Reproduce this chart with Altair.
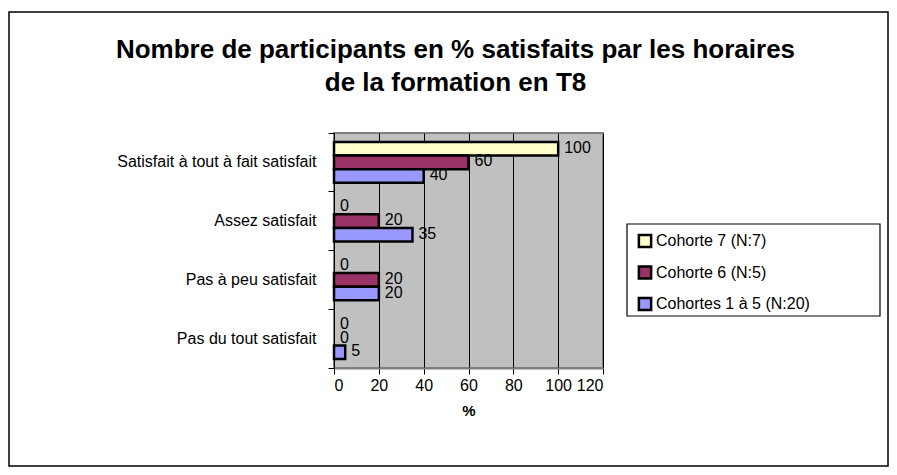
import altair as alt
import pandas as pd

categories = ["Satisfait à tout à fait satisfait", "Assez satisfait",
              "Pas à peu satisfait", "Pas du tout satisfait"]
series = ["Cohorte 7 (N:7)", "Cohorte 6 (N:5)", "Cohortes 1 à 5 (N:20)"]
cohorte7 = [100, 0, 0, 0]
cohorte6 = [60, 20, 20, 0]
cohortes1_5 = [40, 35, 20, 5]
colors = ["#FFFFCC", "#993366", "#9999FF"]
x_ticks = [0, 20, 40, 60, 80, 100, 120]

rows = []
for s, vals in zip(series, [cohorte7, cohorte6, cohortes1_5]):
    for c, v in zip(categories, vals):
        rows.append({"cat": c, "serie": s, "value": v})
df = pd.DataFrame(rows)

FONT = "Liberation Sans"

y_enc = alt.Y("cat:N", sort=categories,
              scale=alt.Scale(paddingInner=0, paddingOuter=0),
              axis=alt.Axis(title=None, ticks=False, domain=False,
                            labelFontSize=16, labelFont=FONT, labelColor="black",
                            labelPadding=18, labelLimit=400, orient="left"))
yoff = alt.YOffset("serie:N", sort=series, scale=alt.Scale(paddingOuter=0.65, paddingInner=0))
x_enc = alt.X("value:Q", scale=alt.Scale(domain=[0, 120], nice=False),
              axis=alt.Axis(values=x_ticks, title="%", grid=True, gridColor="black",
                            gridWidth=1, gridOpacity=1, domainColor="#808080",
                            domainWidth=2, tickColor="black", tickSize=6,
                            labelFontSize=16, labelFont=FONT, labelColor="black",
                            labelPadding=3, titleFontSize=15, titleFont=FONT,
                            titleFontWeight="bold", titlePadding=10))

bars = alt.Chart(df).transform_filter("datum.value > 0").mark_bar(
    stroke="black", strokeWidth=2.5).encode(
    x=x_enc, y=y_enc, yOffset=yoff,
    color=alt.Color("serie:N", sort=series,
                    scale=alt.Scale(domain=series, range=colors),
                    legend=alt.Legend(title=None, orient="none", legendX=293, legendY=90,
                                      strokeColor="transparent", fillColor="transparent",
                                      padding=10, symbolType="square", symbolSize=150,
                                      symbolStrokeColor="black", symbolStrokeWidth=2.5,
                                      labelFontSize=16, labelFont=FONT, labelColor="black",
                                      rowPadding=7.5, labelOffset=3, labelLimit=400,
                                      symbolOpacity=1)))

labels = alt.Chart(df).mark_text(align="left", dx=6, dy=-1, fontSize=16,
                                 font=FONT, color="black").encode(
    x="value:Q",
    y=alt.Y("cat:N", sort=categories,
            axis=alt.Axis(title=None, labels=False, ticks=True, tickColor="black",
                          tickSize=6, domain=False, bandPosition=1, tickExtra=True,
                          orient="left")),
    yOffset=yoff, text="value:Q")

# decorative boxes: outer chart frame and legend frame
frame = alt.Chart(alt.Data(values=[{}])).mark_rect(
    fill=None, stroke="black", strokeWidth=1.5).encode(
    x=alt.value(-325), x2=alt.value(554), y=alt.value(-121), y2=alt.value(333))
legend_box = alt.Chart(alt.Data(values=[{}])).mark_rect(
    fill="white", stroke="black", strokeWidth=1.2).encode(
    x=alt.value(293), x2=alt.value(546), y=alt.value(91), y2=alt.value(183))

chart = alt.layer(frame, legend_box, bars, labels).resolve_axis(y="independent").properties(
    width=269, height=235,
    background="white",
    autosize=alt.AutoSizeParams(type="none"),
    padding={"left": 326, "top": 125, "right": 286, "bottom": 99},
    title=alt.TitleParams(
        text=["Nombre de participants en % satisfaits par les horaires",
              "de la formation en T8"],
        fontSize=26, font=FONT, fontWeight="bold", color="black",
        anchor="middle", frame="group", offset=-85, dx=-13, lineHeight=33)
).configure_view(fill="#C0C0C0", stroke="#808080", strokeWidth=2)

chart.save("out.html", embed_options={"renderer": "svg", "actions": False})
